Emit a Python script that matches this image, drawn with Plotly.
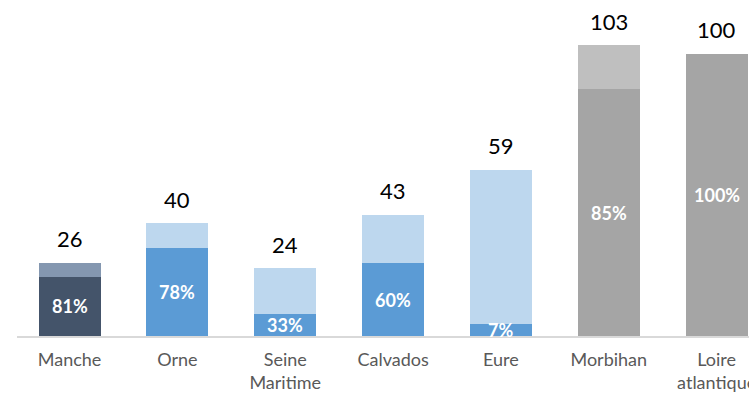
import plotly.graph_objects as go

categories = ["Manche", "Orne", "Seine<br>Maritime", "Calvados", "Eure", "Morbihan", "Loire<br>atlantique"]
totals = [26, 40, 24, 43, 59, 103, 100]
shares_pct = [81, 78, 33, 60, 7, 85, 100]

bottom_colors = ["#44546A", "#5B9BD5", "#5B9BD5", "#5B9BD5", "#5B9BD5", "#A5A5A5", "#A5A5A5"]
top_colors = ["#8497B0", "#BDD7EE", "#BDD7EE", "#BDD7EE", "#BDD7EE", "#BFBFBF", "#BFBFBF"]

bottom_vals = [t * p / 100 for t, p in zip(totals, shares_pct)]
top_vals = [t - b for t, b in zip(totals, bottom_vals)]

FONT = "Lato"

fig = go.Figure()
fig.add_bar(x=categories, y=bottom_vals, marker=dict(color=bottom_colors, line=dict(width=0)),
            hoverinfo="skip")
fig.add_bar(x=categories, y=top_vals, marker=dict(color=top_colors, line=dict(width=0)),
            hoverinfo="skip")

for c, t, b, p in zip(categories, totals, bottom_vals, shares_pct):
    fig.add_annotation(x=c, y=t, text=str(t), showarrow=False, yanchor="middle", yshift=24,
                       font=dict(family=FONT, size=22, color="#000000"))
    fig.add_annotation(x=c, y=b / 2, text=f"<b>{p}%</b>", showarrow=False, yanchor="middle",
                       font=dict(family=FONT, size=18, color="#FFFFFF"))

fig.update_layout(
    barmode="stack",
    width=749, height=393,
    margin=dict(l=17, r=0, t=0, b=57),
    paper_bgcolor="white", plot_bgcolor="white",
    showlegend=False,
    bargap=0.425,
    font=dict(family=FONT),
)
fig.update_xaxes(range=[-0.487, 6.30], showline=True, linecolor="#D9D9D9", linewidth=2,
                 ticks="", showgrid=False, ticklabelstandoff=6, automargin=False,
                 tickfont=dict(family=FONT, size=18, color="#595959"))
fig.update_yaxes(range=[0, 119.1], visible=False, showgrid=False, zeroline=False, automargin=False)

fig.write_html("out.html", config={"displayModeBar": False},
               post_script="document.body.style.margin='0';")
